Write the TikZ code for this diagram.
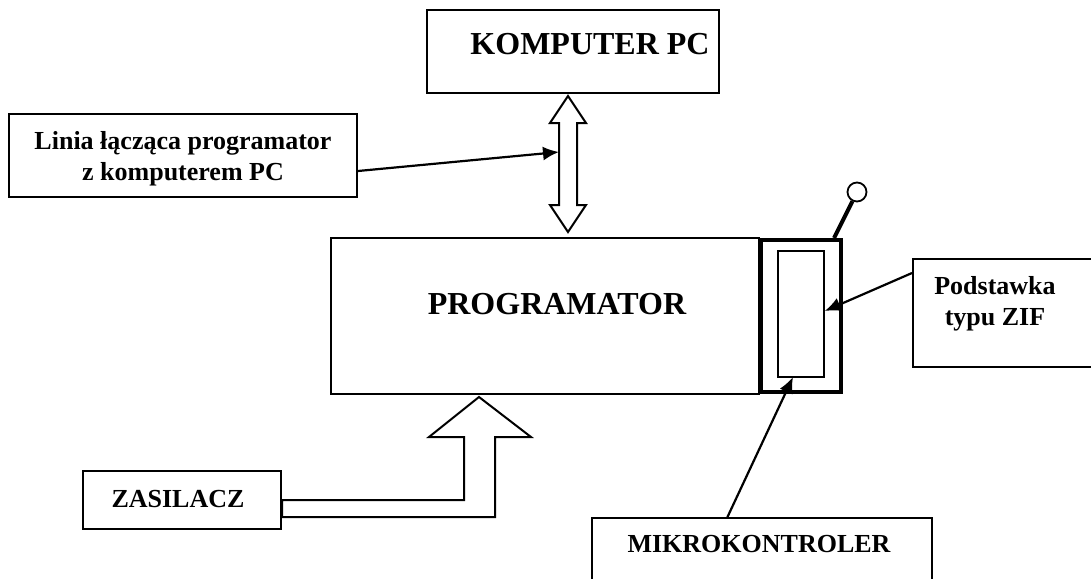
\documentclass[tikz,border=0pt]{standalone}
\usepackage{fontspec}
\setmainfont{Liberation Serif}
\usetikzlibrary{arrows.meta}
\tikzset{
  box/.style={draw=black, line width=2pt, inner sep=0pt},
  lbl/.style={font=\bfseries\fontsize{26}{31}\selectfont, inner sep=0pt, align=center},
  biglbl/.style={font=\bfseries\fontsize{32}{38}\selectfont, inner sep=0pt},
  pointer/.style={line width=2.2pt, -{Latex[length=16pt,width=14pt]}},
  hollow/.style={draw=black, line width=2pt, fill=white, line join=miter},
}
\begin{document}
\begin{tikzpicture}[x=1pt, y=-1pt]
\useasboundingbox (0,0) rectangle (1091,578);
\clip (0,0) rectangle (1091,578);

% boxes
\node[box, minimum width=292pt, minimum height=83pt] (pc) at (573,51.5) {};
\node[biglbl] (pct) at (590,44) {KOMPUTER PC};

\node[box, minimum width=428pt, minimum height=156pt] (prog) at (545,316) {};
\node[biglbl] (progt) at (557,304) {PROGRAMATOR};

\node[box, minimum width=348pt, minimum height=83pt] (linia) at (183,155.5) {};
\node[lbl] (liniat) at (183,159) {Linia łącząca programator\\z komputerem PC};

\node[box, minimum width=198pt, minimum height=58pt] (zas) at (182,500) {};
\node[lbl] (zast) at (178,499) {ZASILACZ};

\node[box, minimum width=200pt, minimum height=108pt] (zif) at (1013,313) {};
\node[lbl] (zift) at (995,304) {Podstawka\\typu ZIF};

\node[box, minimum width=340pt, minimum height=100pt] (mk) at (762,568) {};
\node[lbl] (mkt) at (759,544) {MIKROKONTROLER};

% ZIF socket with its lever
\node[draw=black, line width=4pt, minimum width=80pt, minimum height=152pt, inner sep=0pt] (sock) at (800.5,315.5) {};
\node[draw=black, line width=1.5pt, minimum width=46pt, minimum height=126pt, inner sep=0pt] (slot) at (801,314) {};
\coordinate (lever) at (834,238);
\node[draw=black, line width=1.8pt, circle, minimum size=19pt, inner sep=0pt] (knob) at (857,192) {};
\draw[line width=4pt] (lever) -- (knob);

% double arrow between PC and programmer
\draw[hollow] (568,96) -- (586,123) -- (577,123) -- (577,205) -- (586,205)
  -- (568,232) -- (550,205) -- (559,205) -- (559,123) -- (550,123) -- cycle;
\coordinate (link) at (559,152);

% power feed arrow
\draw[hollow] (282,500) -- (464,500) -- (464,437) -- (429,437) -- (479,397)
  -- (531,437) -- (495,437) -- (495,517) -- (282,517) -- cycle;

% pointers
\draw[pointer] (linia.east |- 0,171) -- (link);
\draw[pointer] (zif.west |- 0,273) -- (slot.east |- 0,311);
\draw[pointer] (727,518) -- (793,377);
\end{tikzpicture}
\end{document}
